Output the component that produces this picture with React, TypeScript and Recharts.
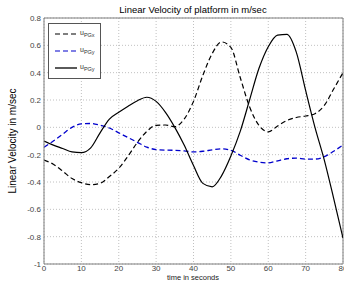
import React from 'react';
import { LineChart, Line, XAxis, YAxis, CartesianGrid, ReferenceLine } from 'recharts';

const times = [0, 2.5, 5, 7.5, 10, 12.5, 15, 17.5, 20, 22.5, 25, 27.5, 30, 32.5, 35, 37.5, 40, 42.5, 45, 47.5, 50, 52.5, 55, 57.5, 60, 62.5, 65, 67.5, 70, 72.5, 75, 77.5, 80];
const uPGx = [-0.24, -0.27, -0.32, -0.375, -0.405, -0.42, -0.41, -0.36, -0.30, -0.21, -0.11, -0.03, 0.015, 0.017, 0.005, 0.06, 0.19, 0.38, 0.54, 0.625, 0.585, 0.365, 0.15, 0.015, -0.033, 0.01, 0.05, 0.072, 0.083, 0.10, 0.16, 0.28, 0.40];
const uPGy1 = [-0.145, -0.1, -0.05, 0.0, 0.025, 0.028, 0.015, -0.005, -0.04, -0.075, -0.11, -0.145, -0.163, -0.167, -0.168, -0.172, -0.18, -0.175, -0.165, -0.157, -0.168, -0.204, -0.238, -0.255, -0.26, -0.245, -0.23, -0.225, -0.232, -0.232, -0.215, -0.175, -0.13];
const uPGy2 = [-0.10, -0.13, -0.155, -0.18, -0.185, -0.15, -0.04, 0.06, 0.11, 0.155, 0.195, 0.22, 0.19, 0.11, 0.0, -0.13, -0.28, -0.41, -0.435, -0.355, -0.21, -0.03, 0.2, 0.43, 0.59, 0.675, 0.68, 0.55, 0.27, 0.0, -0.24, -0.52, -0.81];

const xTicks = [0, 10, 20, 30, 40, 50, 60, 70, 80];
const yTicks = [-1, -0.8, -0.6, -0.4, -0.2, 0, 0.2, 0.4, 0.6, 0.8];
const legendLabels = [
  { main: 'u', sub: 'PGx' },
  { main: 'u', sub: 'PGy' },
  { main: 'u', sub: 'PGy' },
];

const data = times.map((t, i) => ({ t, a: uPGx[i], b: uPGy1[i], c: uPGy2[i] }));

const FONT = '"Liberation Sans", Arial, sans-serif';
const AXIS = '#7f7f7f';

const legendStyles = [
  { color: '#000000', dash: '5 3', width: 1.2 },
  { color: '#0000cc', dash: '5 3', width: 1.2 },
  { color: '#000000', dash: undefined as string | undefined, width: 1.3 },
];

const Overlay = () => (
  <svg width={344} height={281} style={{ position: 'absolute', left: 0, top: 0, pointerEvents: 'none' }} fontFamily={FONT}>
    <text x={193} y={13} textAnchor="middle" fontSize={9.5} fill="#000">Linear Velocity of platform in m/sec</text>
    <text x={16} y={141} textAnchor="middle" fontSize={10} fill="#000" transform="rotate(-90 16 141)">Linear Velocity in m/sec</text>
    <text x={193} y={280} textAnchor="middle" fontSize={7.5} fill="#222">time in seconds</text>
    <rect x={48.5} y={23.5} width={52} height={55} fill="#fff" stroke="#555" strokeWidth={1} />
    {legendLabels.map((l, i) => {
      const y = 34 + i * 17;
      return (
        <g key={i}>
          <line x1={55} y1={y} x2={77} y2={y} stroke={legendStyles[i].color} strokeWidth={legendStyles[i].width} strokeDasharray={legendStyles[i].dash} />
          <text x={80} y={y + 1} fontSize={7} fill="#333">
            {l.main}
            <tspan fontSize={5.5} dy={2}>{l.sub}</tspan>
          </text>
        </g>
      );
    })}
  </svg>
);

export default function App() {
  return (
    <div style={{ position: 'absolute', left: 0, top: 0, width: 344, height: 281, background: '#fff', overflow: 'hidden' }}>
      <LineChart width={344} height={281} data={data} margin={{ top: 18, right: 1, bottom: 0, left: 0 }}>
        <CartesianGrid stroke="#b0b0b0" strokeDasharray="1 2" strokeWidth={0.8} />
        <XAxis dataKey="t" type="number" domain={[0, 80]} ticks={xTicks} height={17} tickLine={false} tickSize={0} tickMargin={1}
          stroke={AXIS} tick={{ fill: '#444', fontSize: 8, fontFamily: FONT }} interval={0} allowDataOverflow />
        <YAxis type="number" domain={[-1, 0.8]} ticks={yTicks} width={44} tickLine={false} tickSize={0} tickMargin={3}
          stroke={AXIS} tick={{ fill: '#444', fontSize: 8, fontFamily: FONT }} interval={0} allowDataOverflow
          tickFormatter={(v: number) => String(Number(v.toFixed(1)))} />
        <ReferenceLine y={0.8} stroke={AXIS} />
        <ReferenceLine x={80} stroke={AXIS} />
        <Line type="monotone" dataKey="a" stroke="#000" strokeWidth={1.2} strokeDasharray="5 3" dot={false} isAnimationActive={false} />
        <Line type="monotone" dataKey="b" stroke="#0000cc" strokeWidth={1.3} strokeDasharray="5 3" dot={false} isAnimationActive={false} />
        <Line type="monotone" dataKey="c" stroke="#000" strokeWidth={1.2} dot={false} isAnimationActive={false} />
      </LineChart>
      <Overlay />
    </div>
  );
}
